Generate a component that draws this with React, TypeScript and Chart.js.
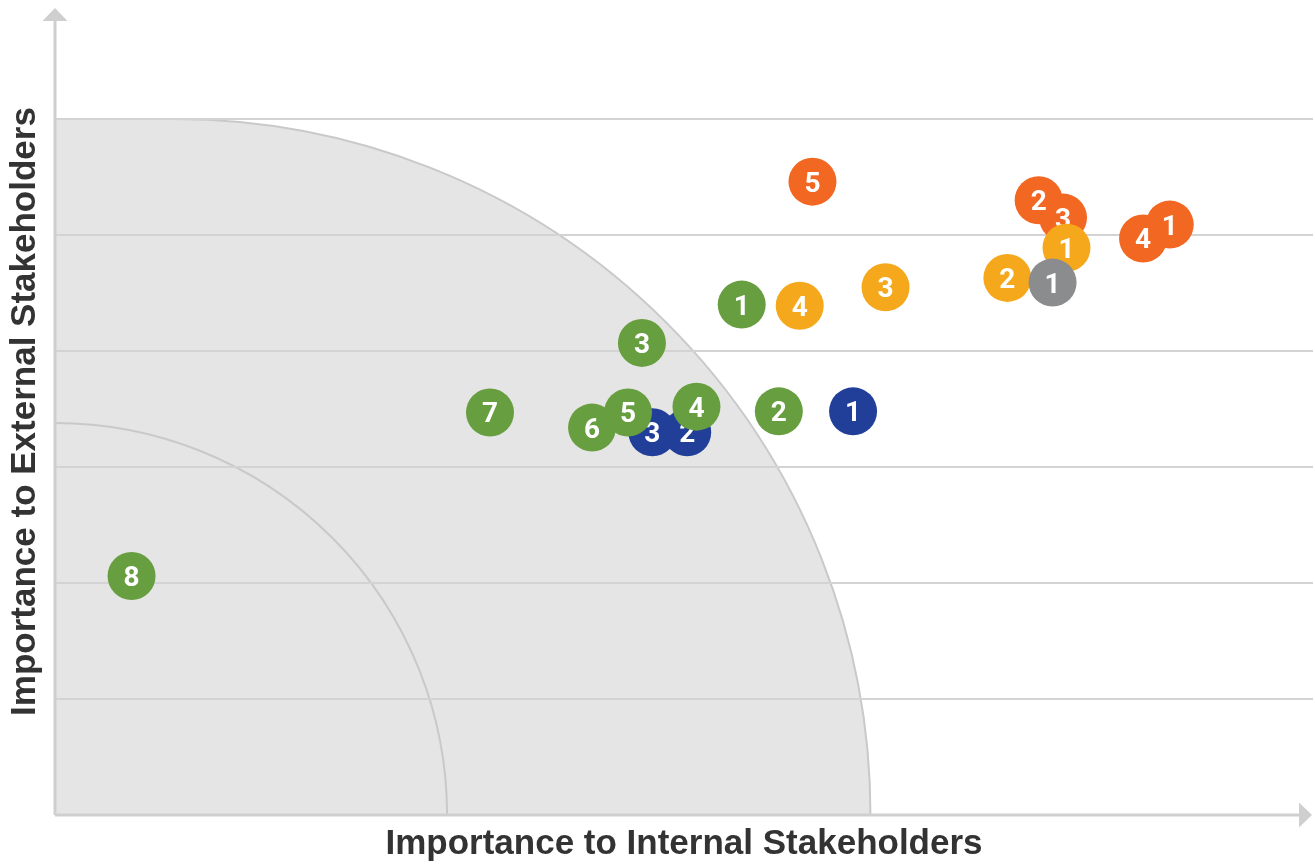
import { useEffect, useRef } from 'react';
import { Chart, registerables } from 'chart.js';

Chart.register(...registerables);

// Issue numbers and positions, one group per colour.
// x: importance to internal stakeholders, y: importance to external stakeholders.
const orangeIds = ['2', '3', '4', '1', '5'];
const orangeX = [8.48, 8.69, 9.38, 9.61, 6.53];
const orangeY = [5.3, 5.15, 4.97, 5.09, 5.46];

const yellowIds = ['4', '3', '2', '1'];
const yellowX = [6.42, 7.16, 8.21, 8.72];
const yellowY = [4.39, 4.55, 4.63, 4.89];

const greyIds = ['1'];
const greyX = [8.6];
const greyY = [4.59];

const greenIds = ['8', '7', '6', '5', '3', '4', '2', '1'];
const greenX = [0.66, 3.75, 4.63, 4.94, 5.06, 5.53, 6.24, 5.92];
const greenY = [2.06, 3.47, 3.34, 3.47, 4.07, 3.52, 3.48, 4.4];

const blueIds = ['1', '2', '3'];
const blueX = [6.88, 5.45, 5.15];
const blueY = [3.48, 3.3, 3.3];

// Axis extents and the shaded low-priority zone (in axis units)
const X_MAX = 10.845;
const Y_MAX = 6.957;
const GRID_VALUES = [1, 2, 3, 4, 5, 6];
const ZONE_TOP = 6;
const ZONE_ARC_CENTER_X = 1.03;
const INNER_ARC_RADIUS = 3.38;

const X_TITLE = 'Importance to Internal Stakeholders';
const Y_TITLE = 'Importance to External Stakeholders';

const COLORS = {
  orange: '#f26722',
  yellow: '#f6a81c',
  grey: '#8b8c8e',
  green: '#679e3f',
  blue: '#213f99',
};

const toPoints = (xs: number[], ys: number[]) => xs.map((x, i) => ({ x, y: ys[i] }));

const LABEL_SIZE = 28;

const zonePlugin = {
  id: 'zone',
  beforeDraw(chart: any) {
    const { ctx, scales } = chart;
    const xs = scales.x;
    const ys = scales.y;
    const x0 = xs.getPixelForValue(0);
    const y0 = ys.getPixelForValue(0);
    const top = ys.getPixelForValue(ZONE_TOP);
    const r = y0 - top;
    const cx = xs.getPixelForValue(ZONE_ARC_CENTER_X);
    const innerR = y0 - ys.getPixelForValue(INNER_ARC_RADIUS);

    ctx.save();
    ctx.beginPath();
    ctx.moveTo(x0, y0);
    ctx.lineTo(x0, top);
    ctx.lineTo(cx, top);
    ctx.arc(cx, y0, r, -Math.PI / 2, 0);
    ctx.closePath();
    ctx.fillStyle = '#e5e5e5';
    ctx.fill();

    ctx.strokeStyle = '#c9c9cc';
    ctx.lineWidth = 2;
    ctx.beginPath();
    ctx.arc(cx, y0, r, -Math.PI / 2, 0);
    ctx.stroke();

    ctx.beginPath();
    ctx.arc(x0, y0, innerR, -Math.PI / 2, 0);
    ctx.stroke();
    ctx.restore();
  },
};

const axesPlugin = {
  id: 'arrowAxes',
  beforeDatasetsDraw(chart: any) {
    const { ctx, chartArea } = chart;
    const x0 = chartArea.left;
    const y0 = chartArea.bottom;
    const color = '#cfcfcf';
    ctx.save();
    ctx.strokeStyle = color;
    ctx.fillStyle = color;
    ctx.lineWidth = 3;
    ctx.beginPath();
    ctx.moveTo(x0, y0);
    ctx.lineTo(x0, chartArea.top + 10);
    ctx.moveTo(x0, y0);
    ctx.lineTo(chartArea.right - 12, y0);
    ctx.stroke();

    // arrow heads
    ctx.beginPath();
    ctx.moveTo(x0, chartArea.top);
    ctx.lineTo(x0 - 12.5, chartArea.top + 13);
    ctx.lineTo(x0 + 12.5, chartArea.top + 13);
    ctx.closePath();
    ctx.fill();

    const tipX = chartArea.right - 1;
    ctx.beginPath();
    ctx.moveTo(tipX, y0);
    ctx.lineTo(tipX - 13, y0 - 12.5);
    ctx.lineTo(tipX - 13, y0 + 12.5);
    ctx.closePath();
    ctx.fill();
    ctx.restore();
  },
};

const numberPlugin = {
  id: 'numberLabels',
  afterDatasetDraw(chart: any, args: any) {
    const ds: any = chart.data.datasets[args.index];
    const ids: string[] = ds.ids || [];
    const { ctx } = chart;
    ctx.save();
    ctx.fillStyle = '#ffffff';
    ctx.font = `bold ${LABEL_SIZE}px Roboto`;
    ctx.textAlign = 'center';
    ctx.textBaseline = 'alphabetic';
    args.meta.data.forEach((el: any, i: number) => {
      ctx.fillText(ids[i], el.x, el.y + LABEL_SIZE * 0.355);
    });
    ctx.restore();
  },
};

const makeSet = (ids: string[], xs: number[], ys: number[], color: string, order: number) => ({
  ids,
  data: toPoints(xs, ys),
  backgroundColor: color,
  borderWidth: 0,
  pointRadius: 24,
  pointHoverRadius: 24,
  pointHoverBorderWidth: 0,
  order,
  clip: false as const,
});

export default function App() {
  const canvasRef = useRef<HTMLCanvasElement | null>(null);

  useEffect(() => {
    if (!canvasRef.current) return;
    const chart = new Chart(canvasRef.current, {
      type: 'scatter',
      data: {
        datasets: [
          makeSet(greyIds, greyX, greyY, COLORS.grey, 0),
          makeSet(yellowIds, yellowX, yellowY, COLORS.yellow, 1),
          makeSet(orangeIds, orangeX, orangeY, COLORS.orange, 2),
          makeSet(greenIds, greenX, greenY, COLORS.green, 3),
          makeSet(blueIds, blueX, blueY, COLORS.blue, 4),
        ] as any,
      },
      options: {
        animation: false,
        responsive: true,
        maintainAspectRatio: false,
        events: [],
        layout: { autoPadding: false, padding: { top: 8, right: 2, left: 0, bottom: 0 } },
        plugins: {
          legend: { display: false },
          tooltip: { enabled: false },
        },
        scales: {
          x: {
            type: 'linear',
            min: 0,
            max: X_MAX,
            ticks: { display: false },
            grid: { display: false, drawTicks: false },
            border: { display: false },
            title: {
              display: true,
              text: X_TITLE,
              color: '#333333',
              font: { family: '"Liberation Sans", Arial, sans-serif', size: 35, weight: 'bold' },
              padding: { top: 0, bottom: 0 },
            },
            afterFit: (scale: any) => {
              scale.height = 50;
            },
          },
          y: {
            type: 'linear',
            min: 0,
            max: Y_MAX,
            ticks: { display: false, stepSize: 1 },
            grid: {
              drawTicks: false,
              lineWidth: 2,
              color: (c: any) =>
                c.tick && GRID_VALUES.includes(c.tick.value) ? '#d3d3d3' : 'rgba(0,0,0,0)',
            },
            border: { display: false },
            title: {
              display: true,
              text: Y_TITLE,
              color: '#333333',
              font: { family: '"Liberation Sans", Arial, sans-serif', size: 35, weight: 'bold' },
              padding: { top: 4, bottom: 0 },
            },
            afterFit: (scale: any) => {
              scale.width = 55;
            },
          },
        },
      } as any,
      plugins: [zonePlugin, axesPlugin, numberPlugin],
    });
    return () => chart.destroy();
  }, []);

  return (
    <div style={{ position: 'fixed', left: 0, top: 0, width: 1315, height: 865, background: '#ffffff' }}>
      <canvas ref={canvasRef} />
    </div>
  );
}
